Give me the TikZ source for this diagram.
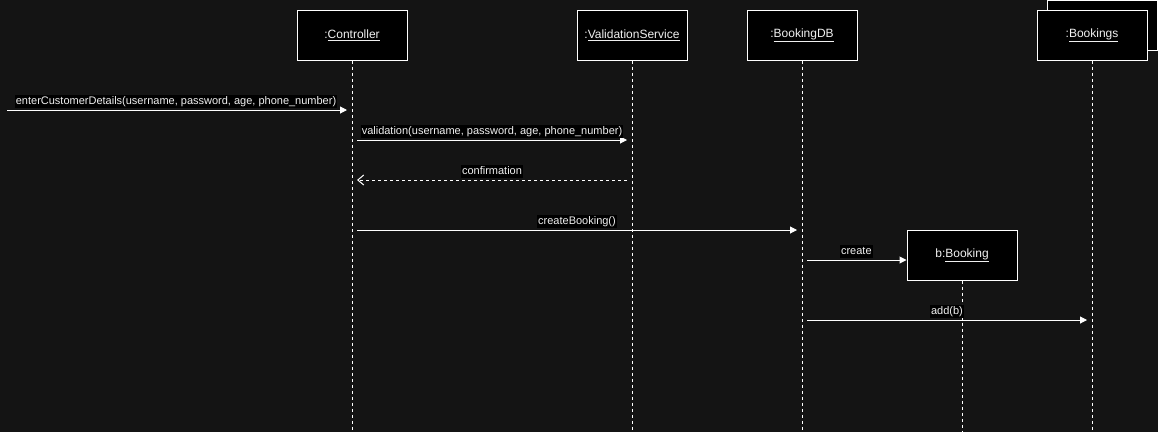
\documentclass[tikz,border=0pt]{standalone}
\usepackage{fontspec}
\setmainfont{Liberation Sans}
\usetikzlibrary{arrows.meta}
\definecolor{bgdark}{HTML}{141414}
\definecolor{txtlight}{HTML}{F0F0F0}

\begin{document}
\begin{tikzpicture}[x=1pt, y=-1pt,
    obj/.style={draw=white, fill=black, text=txtlight, line width=1pt, minimum width=110pt, minimum height=50pt, inner sep=0pt, font=\fontsize{12}{14}\selectfont},
    life/.style={draw=white, line width=1pt, dash pattern=on 3pt off 3pt},
    msg/.style={draw=white, line width=1pt, shorten >=5pt, -{Triangle[length=7pt,width=7pt]}},
    reply/.style={draw=white, line width=1pt, dash pattern=on 3pt off 3pt, shorten >=5pt, shorten <=5pt, -{Straight Barb[length=6pt,width=10pt]}},
    lbl/.style={fill=black, text=txtlight, inner sep=1pt, text height=8.5pt, text depth=2.5pt, font=\fontsize{11}{13}\selectfont}]
    \useasboundingbox (0,0) rectangle (1158,432);
    \fill[bgdark] (0,0) rectangle (1158,432);
    % objects
    \node[obj] (ctl) at (352,35) {:\underline{Controller}};
    \node[obj] (valsvc) at (632,35) {:\underline{ValidationService}};
    \node[obj] (bookdb) at (802,35) {:\underline{BookingDB}};
    \node[obj] (bookback) at (1102,25) {};
    \node[obj] (bookings) at (1092,35) {:\underline{Bookings}};
    \node[obj] (booking) at (962,255) {b:\underline{Booking}};
    % lifelines
    \coordinate (bot) at (0,432);
    \foreach \o in {ctl,valsvc,bookdb,bookings,booking} {\draw[life] (\o.south) -- (\o.south |- bot);}
    % message rows
    \coordinate (in) at (7,110);
    \coordinate (r2) at (0,140); \coordinate (r3) at (0,180); \coordinate (r4) at (0,230);
    \coordinate (r5) at (0,260); \coordinate (r6) at (0,320);
    \draw[msg] (in) -- (ctl.south |- in) node[lbl, pos=0.49, above=1.5pt] {enterCustomerDetails(username, password, age, phone\_number)};
    \draw[msg, shorten <=5pt] (ctl.south |- r2) -- (valsvc.south |- r2) node[lbl, midway, above=1.5pt] {validation(username, password, age, phone\_number)};
    \draw[reply] (valsvc.south |- r3) -- (ctl.south |- r3) node[lbl, midway, above=1.5pt] {confirmation};
    \draw[msg, shorten <=5pt] (ctl.south |- r4) -- (bookdb.south |- r4) node[lbl, midway, above=1.5pt] {createBooking()};
    \draw[msg, shorten <=5pt, shorten >=0pt] (bookdb.south |- r5) -- (booking.west |- r5) node[lbl, pos=0.52, above=1.5pt] {create};
    \draw[msg, shorten <=5pt] (bookdb.south |- r6) -- (bookings.south |- r6) node[lbl, midway, above=1.5pt] {add(b)};
\end{tikzpicture}
\end{document}
